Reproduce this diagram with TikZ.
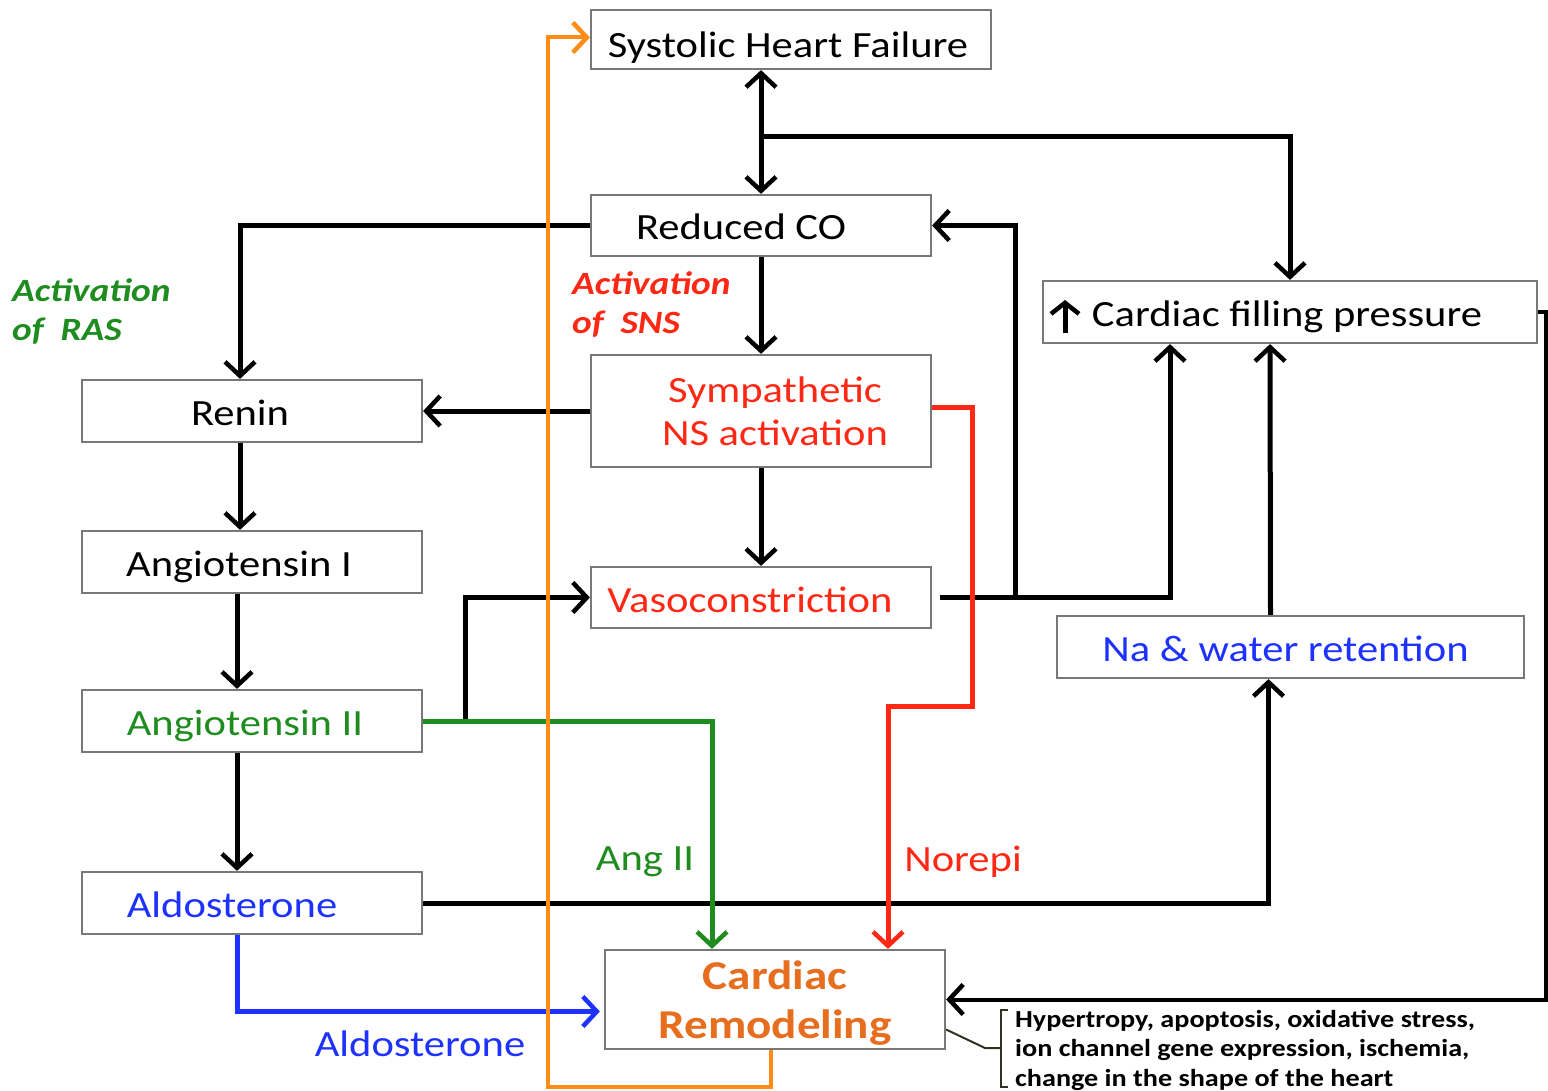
\documentclass[tikz,border=0pt]{standalone}
\usepackage{fontspec}
\setmainfont{Carlito}[FakeStretch=1.15]
\usetikzlibrary{arrows.meta,calc}
\definecolor{cgreen}{RGB}{30,140,30}
\definecolor{cred}{RGB}{255,40,20}
\definecolor{cblue}{RGB}{30,50,255}
\definecolor{corange}{RGB}{255,140,20}
\definecolor{ctorange}{RGB}{230,110,30}
\definecolor{cbox}{RGB}{120,120,120}
\definecolor{cbrace}{RGB}{50,50,35}
\tikzset{
  box/.style={draw=cbox, line width=2.2pt, rectangle, inner sep=0pt, font=\fontsize{37}{43}\selectfont, align=center},
  oneline/.style={text height=33pt, text depth=4pt},
  arr/.style={line width=5pt, -{Straight Barb[length=14pt,width=30pt,line width=4.5pt]}},
  dbl/.style={line width=5pt, {Straight Barb[length=14pt,width=30pt,line width=4.5pt]}-{Straight Barb[length=14pt,width=30pt,line width=4.5pt]}},
  lbl/.style={font=\fontsize{37}{43}\selectfont, inner sep=0pt},
  act/.style={font=\fontsize{32.5}{39}\selectfont\bfseries\itshape, align=left, inner sep=0pt}
}
\begin{document}
\begin{tikzpicture}[x=1pt,y=-1pt]
\useasboundingbox (0,0) rectangle (1548,1091);
% boxes
\node[box, oneline, text height=41pt, minimum width=400pt, minimum height=59pt] (shf) at (791,39.5) {Systolic Heart Failure\hspace*{6pt}};
\node[box, oneline, minimum width=340pt, minimum height=61pt] (rco) at (761,225.5) {Reduced CO\hspace*{40pt}};
\node[box, minimum width=340pt, minimum height=112pt, text=cred] (sns) at (761,411) {\hspace*{28pt}Sympathetic\\\hspace*{28pt}NS activation};
\node[box, oneline, minimum width=340pt, minimum height=61pt, text=cred] (vaso) at (761,597.5) {Vasoconstriction\hspace*{22pt}};
\node[box, oneline, minimum width=340pt, minimum height=62pt] (renin) at (252,411) {Renin\hspace*{24pt}};
\node[box, oneline, minimum width=340pt, minimum height=62pt] (ang1) at (252,562) {Angiotensin I\hspace*{26pt}};
\node[box, oneline, minimum width=340pt, minimum height=62pt, text=cgreen] (ang2) at (252,721) {Angiotensin II\hspace*{14pt}};
\node[box, oneline, minimum width=340pt, minimum height=62pt, text=cblue] (aldo) at (252,903) {Aldosterone\hspace*{40pt}};
\node[box, oneline, minimum width=494pt, minimum height=62pt] (cfp) at (1290,312) {\hspace*{44pt}Cardiac filling pressure\hspace*{50pt}};
\node[box, oneline, minimum width=467pt, minimum height=62pt, text=cblue] (na) at (1290.5,647) {Na \& water retention\hspace*{10pt}};
\node[box, text depth=0pt, minimum width=340pt, minimum height=99pt, text=ctorange, font=\fontsize{41}{49}\selectfont\bfseries] (crem) at (775,999.5) {Cardiac\\Remodeling};
% labels
\node[act, text=cgreen, anchor=north west] (lras) at (12,278) {Activation\\of~ RAS};
\node[act, text=cred, anchor=north west] (lsns) at (572,271) {Activation\\of~ SNS};
\node[lbl, text=cgreen] (lang) at (645,862) {Ang II};
\node[lbl, text=cred] (lnor) at (963,862) {Norepi};
\node[lbl, text=cblue] (lald) at (420,1044) {Aldosterone};
\node[anchor=north west, align=left, inner sep=0pt, font=\fontsize{24.5}{29.5}\selectfont\bfseries] (note) at (1015,1010) {Hypertropy, apoptosis, oxidative stress,\\ion channel gene expression, ischemia,\\change in the shape of the heart};
% the up arrow inside the filling-pressure box
\coordinate (upa) at (1065,333);
\coordinate (upb) at (1065,300);
\draw[line width=5pt, -{Straight Barb[length=11pt,width=28pt,line width=4.5pt]}] (upa) -- (upb);
% black connectors
\coordinate (j1) at (761,137);
\coordinate (j2) at (1015,597.5);
\coordinate (j3) at (465,721);
\coordinate (redA) at (972,706);
\coordinate (orA) at (548,1087);
\coordinate (rgt) at (1546,312);
\draw[dbl] (rco.north |- shf.south) -- (rco.north);
\draw[arr] (j1) -| (cfp.north);
\draw[arr] (rco.west) -| ([xshift=-12pt]renin.north);
\draw[arr] (rco.south) -- (sns.north);
\draw[arr] (sns.west) -- (renin.east);
\draw[arr] (sns.south) -- (vaso.north);
\draw[arr] ([xshift=8pt]vaso.east) -| ([xshift=-120pt]cfp.south);
\draw[arr] (j2) |- (rco.east);
\draw[arr] ([xshift=-20pt]na.north) -- ([xshift=-20pt]cfp.south);
\draw[arr] ([xshift=-12pt]renin.south) -- ([xshift=-12pt]ang1.north);
\draw[arr] ([xshift=-15pt]ang1.south) -- ([xshift=-15pt]ang2.north);
\draw[arr] (j3) |- (vaso.west);
\draw[arr] ([xshift=-15pt]ang2.south) -- ([xshift=-15pt]aldo.north);
\draw[arr] (aldo.east) -| ([xshift=-22pt]na.south);
\draw[arr, line width=4pt] (cfp.east) -- (rgt) |- (crem.east);
% coloured connectors
\draw[arr, draw=cgreen] (ang2.east) -| ([xshift=-63pt]crem.north);
\draw[arr, draw=cblue] ([xshift=-15pt]aldo.south) |- ([yshift=-12pt,xshift=-4pt]crem.west);
\draw[arr, draw=cred] ([yshift=4pt]sns.east) -| (redA) -| ([xshift=113pt]crem.north);
\draw[arr, draw=corange, line width=4pt] ([xshift=-4pt]crem.south) |- (orA) |- ([yshift=2pt]shf.west);
% brace
\draw[cbrace, line width=2.2pt] (1008,1010) -- (1001,1010) -- (1001,1087) -- (1008,1087);
\draw[cbrace, line width=2pt] ([yshift=-30pt]crem.east) -- (985,1048) -- (1001,1048);
\end{tikzpicture}
\end{document}
